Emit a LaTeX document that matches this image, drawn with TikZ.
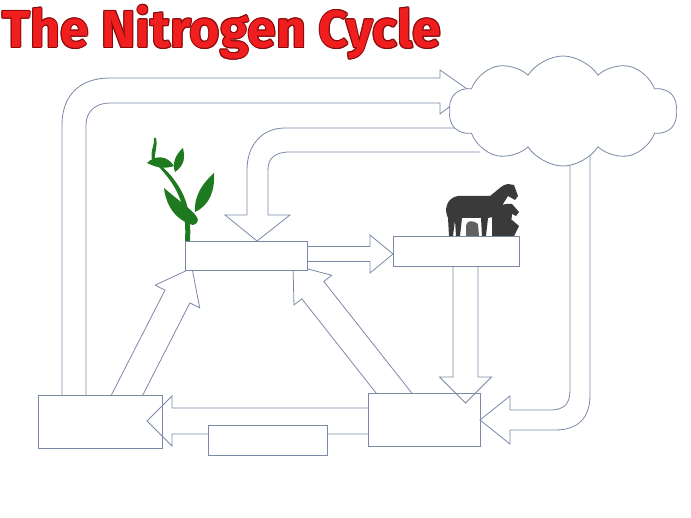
\documentclass[tikz,border=0pt]{standalone}
\usepackage{fontspec}
\setmainfont{Fira Sans}
\usetikzlibrary{calc,shapes.symbols}
\definecolor{arrc}{HTML}{7A8AA6}
\definecolor{titred}{HTML}{F01E1E}
\definecolor{titdark}{HTML}{8A0A0A}
\definecolor{leaf}{HTML}{1F7A1F}
\definecolor{anim}{HTML}{3A3A3A}
\tikzset{arr/.style={draw=arrc,line width=0.8pt,line join=miter},
 boxn/.style={draw=arrc,fill=white,line width=0.8pt,inner sep=0pt}}
% #1 start, #2 tip, #3 half shaft, #4 half head, #5 head length
\newcommand\blockarr[5]{%
 \draw[arr] let \p1=(#1), \p2=(#2), \n1={veclen(\x2-\x1,\y2-\y1)}, \n2={(\x2-\x1)/\n1}, \n3={(\y2-\y1)/\n1} in
  ({\x1-\n3*#3pt},{\y1+\n2*#3pt}) --
  ({\x2-\n2*#5pt-\n3*#3pt},{\y2-\n3*#5pt+\n2*#3pt}) --
  ({\x2-\n2*#5pt-\n3*#4pt},{\y2-\n3*#5pt+\n2*#4pt}) --
  (\p2) --
  ({\x2-\n2*#5pt+\n3*#4pt},{\y2-\n3*#5pt-\n2*#4pt}) --
  ({\x2-\n2*#5pt+\n3*#3pt},{\y2-\n3*#5pt-\n2*#3pt}) --
  ({\x1+\n3*#3pt},{\y1-\n2*#3pt});}
\begin{document}
\begin{tikzpicture}[x=1pt,y=-1pt]
\useasboundingbox (0,0) rectangle (691,518);
% title
\foreach \dx/\dy in {-1/0,1/0,0/-1,0/1,-0.7/-0.7,0.7/0.7,-0.7/0.7,0.7/-0.7}
 \node[anchor=west,inner sep=0pt,text=titdark,font=\bfseries\fontsize{52}{52}\selectfont] at (2+\dx,32+\dy) {The Nitrogen Cycle};
\node[anchor=west,inner sep=0pt,text=titred,font=\bfseries\fontsize{52}{52}\selectfont] (title) at (2,32) {The Nitrogen Cycle};
% arrows that go into boxes
\coordinate (d1) at (122,405); \coordinate (d2) at (192,268);
\blockarr{d1}{d2}{14}{25}{32}
\coordinate (e1) at (401,402); \coordinate (e2) at (293,265);
\blockarr{e1}{e2}{14}{24}{32}
\draw[arr] (62,405) -- (62,125) .. controls (62,95) and (80,78) .. (110,78) -- (440,78) -- (440,70) -- (470,91) -- (440,114) -- (440,103) -- (110,103) .. controls (95,103) and (86,112) .. (86,125) -- (86,405);
\coordinate (a1) at (300,254); \coordinate (a2) at (393,254);
\blockarr{a1}{a2}{7.5}{19}{23}
% boxes
\node[boxn,minimum width=122,minimum height=29] (plant) at (246,255.5) {};
\node[boxn,minimum width=126,minimum height=30] (animal) at (456,251) {};
\node[boxn,minimum width=124,minimum height=53] (bl) at (100,421.5) {};
\node[boxn,minimum width=112,minimum height=53] (br) at (424,419.5) {};
% arrows drawn over boxes
\coordinate (b1) at (465.5,266); \coordinate (b2) at (465.5,403);
\blockarr{b1}{b2}{12.5}{26}{26}
\coordinate (c1) at (368,421); \coordinate (c2) at (147,421);
\blockarr{c1}{c2}{13}{25}{25}
\node[boxn,minimum width=119,minimum height=30] (sm) at (267.5,440) {};
% arrow 2 from cloud to plant
\draw[arr] (480,128) -- (285,128) .. controls (262,128) and (247,145) .. (247,170) -- (247,215) -- (225,215) -- (257,241) -- (290,215) -- (268,215) -- (268,170) .. controls (268,158) and (275,152) .. (290,152) -- (480,152);
% arrow 3 right
\draw[arr] (590,150) -- (590,395) .. controls (590,418) and (578,430) .. (555,430) -- (510,430) -- (510,444) -- (480,420) -- (510,396) -- (510,410) -- (550,410) .. controls (565,410) and (570,403) .. (570,390) -- (570,150);
% cloud
\node[cloud,cloud puffs=10,cloud puff arc=115,aspect=2.1,draw=arrc,fill=white,line width=0.8pt,minimum width=228,minimum height=110] (cloud) at (563,111) {};
% plant
\fill[leaf] (185,241) .. controls (187,205) and (178,185) .. (152,160) .. controls (150,150) and (155,145) .. (154,138) -- (156,138) .. controls (158,148) and (154,152) .. (155,160) .. controls (183,184) and (192,205) .. (190,241) -- cycle;
\fill[leaf] (193,225) .. controls (208,220) and (186,207) .. (164,188) .. controls (166,205) and (175,220) .. (193,225) -- cycle;
\fill[leaf] (195,212) .. controls (210,205) and (215,190) .. (214,173) .. controls (203,183) and (194,195) .. (195,212) -- cycle;
\fill[leaf] (174,166) .. controls (167,155) and (155,155) .. (147,163) .. controls (157,168) and (165,169) .. (174,166) -- cycle;
\fill[leaf] (175,172) .. controls (185,165) and (185,157) .. (183,148) .. controls (175,155) and (172,164) .. (175,172) -- cycle;
% animals
\fill[anim] (449,236) -- (448,218) .. controls (444,210) and (446,198) .. (458,196) -- (490,196) .. controls (498,190) and (503,184) .. (508,184) -- (514,185) -- (518,196) -- (515,200) -- (508,196) -- (503,204) -- (503,236) -- (499,236) -- (498,216) -- (488,218) -- (486,236) -- (482,236) -- (481,218) -- (462,218) -- (460,236) -- (456,236) -- (455,220) -- (453,236) -- cycle;
\fill[anim] (492,236) -- (492,214) .. controls (496,206) and (504,203) .. (512,204) -- (519,212) -- (516,216) -- (512,214) -- (510,236) -- cycle;
\fill[anim] (500,236) -- (501,224) -- (512,220) -- (519,226) -- (516,232) -- (514,236) -- cycle;
\fill[anim!80] (466,236) -- (466,226) .. controls (466,220) and (474,220) .. (478,224) -- (479,236) -- cycle;
\end{tikzpicture}
\end{document}
